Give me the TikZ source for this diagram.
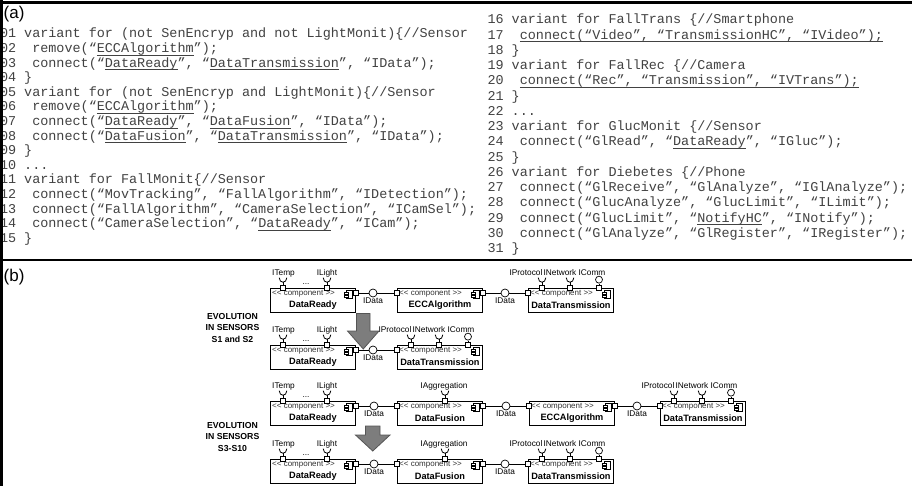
\documentclass[tikz,border=0pt]{standalone}
\usepackage{fontspec}
\setmainfont{Liberation Sans}
\newfontfamily\codefont{Liberation Mono}
\usetikzlibrary{calc}

% underline drawn as a rule under the word
\newcommand\uln[1]{\setbox0\hbox{#1}\rlap{\vrule width\wd0 height -2.2pt depth 3.1pt}\box0}

\tikzset{
  codeline/.style={anchor=base west, inner sep=0pt, outer sep=0pt, text=black!74,
    font=\codefont\fontsize{13.45}{14}\selectfont},
  frameline/.style={line width=2.6pt, black},
  partlabel/.style={anchor=west, inner sep=0pt, font=\fontsize{17}{17}\selectfont},
  compbox/.style={draw, anchor=north west, minimum width=85pt, minimum height=24pt,
    inner sep=0pt, line width=0.9pt, fill=white},
  stereo/.style={anchor=west, inner sep=0pt, text=black!80, font=\fontsize{8}{8}\selectfont},
  cname/.style={inner sep=0pt, font=\bfseries\fontsize{9.2}{10}\selectfont},
  icon/.style={draw, line width=0.6pt, fill=white},
  port/.style={draw, fill=white, rectangle, minimum size=4.5pt, inner sep=0pt, line width=0.6pt},
  ball/.style={draw, fill=white, circle, minimum size=8pt, inner sep=0pt, line width=0.7pt},
  wire/.style={line width=0.8pt},
  ilabel/.style={anchor=base, inner sep=0pt, font=\fontsize{8.3}{9}\selectfont},
  evo/.style={align=center, inner sep=0pt, font=\bfseries\fontsize{8.7}{11.6}\selectfont},
  bigarrow/.style={fill={rgb,255:red,125;green,125;blue,125},
    draw={rgb,255:red,85;green,85;blue,85}, line width=0.8pt, line join=miter},
}

% component box: name, left, top, title
\newcommand\compo[4]{%
  \node[compbox] (#1) at (#2,#3) {};
  \node[stereo] (#1-st) at ($(#1.north west)+(2,6)$) {<\kern0pt< component >\kern0pt>};
  \node[cname] (#1-nm) at ($(#1.north)+(0,17)$) {#4};
  \draw[icon] ($(#1.north east)+(-10,2.5)$) rectangle ($(#1.north east)+(-3.5,10)$);
  \draw[icon] ($(#1.north east)+(-12,4)$) rectangle ($(#1.north east)+(-8,5.8)$);
  \draw[icon] ($(#1.north east)+(-12,7)$) rectangle ($(#1.north east)+(-8,8.8)$);
}
\newcommand\portL[1]{\node[port] (#1-pl) at ($(#1.north west)+(0,5)$) {};}
\newcommand\portR[1]{\node[port] (#1-pr) at ($(#1.north east)+(0,5)$) {};}
% required interface on the top edge: port name, box, offset
\newcommand\socket[3]{%
  \node[port] (#1) at ($(#2.north west)+(#3,0)$) {};
  \draw[wire] (#1.north) -- ++(0,-3.2) coordinate (#1-c);
  \draw[wire] ($(#1-c)+(-3.8,-4.6)$) .. controls ($(#1-c)+(-3.8,1.5)$) and ($(#1-c)+(3.8,1.5)$) .. ($(#1-c)+(3.8,-4.6)$);
}
% provided interface on the top edge: port name, box, offset
\newcommand\lolli[3]{%
  \node[port] (#1) at ($(#2.north west)+(#3,0)$) {};
  \node[ball, minimum size=7pt] (#1-b) at ($(#1.north)+(0,-5.8)$) {};
  \draw[wire] (#1) -- (#1-b);
}
\newcommand\toplabel[4]{\node[ilabel] (#1) at ($(#2.north west)+(#3,-12.5)$) {#4};}
% DataReady with its two sensor inputs
\newcommand\sensorbox[3]{%
  \compo{#1}{#2}{#3}{DataReady}
  \portR{#1}
  \socket{#1-t}{#1}{13}\toplabel{#1-tl}{#1}{13.5}{ITemp}
  \socket{#1-l}{#1}{57}\toplabel{#1-ll}{#1}{57}{ILight}
  \node[ilabel] (#1-dots) at ($(#1.north west)+(36,-4)$) {...};
}
% DataTransmission with its three interfaces
\newcommand\transbox[3]{%
  \compo{#1}{#2}{#3}{DataTransmission}
  \portL{#1}
  \socket{#1-p}{#1}{14}\toplabel{#1-pl2}{#1}{-2}{IProtocol}
  \socket{#1-n}{#1}{42}\toplabel{#1-nl}{#1}{32}{INetwork}
  \lolli{#1-m}{#1}{71}\toplabel{#1-ml}{#1}{64}{IComm}
}
\newcommand\fusionbox[3]{%
  \compo{#1}{#2}{#3}{DataFusion}
  \portL{#1}\portR{#1}
  \socket{#1-a}{#1}{48}\toplabel{#1-al}{#1}{47}{IAggregation}
}
\newcommand\eccbox[3]{%
  \compo{#1}{#2}{#3}{ECCAlgorithm}
  \portL{#1}\portR{#1}
}
% ball between two boxes: name, x, y
\newcommand\databall[3]{%
  \node[ball] (#1) at (#2,#3) {};
  \node[ilabel] (#1-lb) at ($(#1)+(0,10.5)$) {IData};
}

\begin{document}
\begin{tikzpicture}[x=1pt,y=-1pt]
\useasboundingbox (0,0) rectangle (912,486);
\fill[white] (0,0) rectangle (912,486);

% ---------- (a) variability code ----------
\node[codeline] (c01) at (0,38.0)  {01 variant for (not SenEncryp and not LightMonit)\{//Sensor};
\node[codeline] (c02) at (0,52.6)  {02~~remove(“\uln{ECCAlgorithm}”);};
\node[codeline] (c03) at (0,67.2)  {03~~connect(“\uln{DataReady}”, “\uln{DataTransmission}”, “IData”);};
\node[codeline] (c04) at (0,81.8)  {04 \}};
\node[codeline] (c05) at (0,96.4)  {05 variant for (not SenEncryp and LightMonit)\{//Sensor};
\node[codeline] (c06) at (0,111.0) {06~~remove(“\uln{ECCAlgorithm}”);};
\node[codeline] (c07) at (0,125.6) {07~~connect(“\uln{DataReady}”, “\uln{DataFusion}”, “IData”);};
\node[codeline] (c08) at (0,140.2) {08~~connect(“\uln{DataFusion}”, “\uln{DataTransmission}”, “IData”);};
\node[codeline] (c09) at (0,154.8) {09 \}};
\node[codeline] (c10) at (0,169.4) {10 ...};
\node[codeline] (c11) at (0,184.0) {11 variant for FallMonit\{//Sensor};
\node[codeline] (c12) at (0,198.6) {12~~connect(“MovTracking”, “FallAlgorithm”, “IDetection”);};
\node[codeline] (c13) at (0,213.2) {13~~connect(“FallAlgorithm”, “CameraSelection”, “ICamSel”);};
\node[codeline] (c14) at (0,227.8) {14~~connect(“CameraSelection”, “\uln{DataReady}”, “ICam”);};
\node[codeline] (c15) at (0,242.4) {15 \}};

\node[codeline] (c16) at (487.5,24.0)   {16 variant for FallTrans \{//Smartphone};
\node[codeline] (c17) at (487.5,39.25)  {17~~\uln{connect(“Video”, “TransmissionHC”, “IVideo”);}};
\node[codeline] (c18) at (487.5,54.5)   {18 \}};
\node[codeline] (c19) at (487.5,69.75)  {19 variant for FallRec \{//Camera};
\node[codeline] (c20) at (487.5,85.0)   {20~~\uln{connect(“Rec”, “Transmission”, “IVTrans”);}};
\node[codeline] (c21) at (487.5,100.25) {21 \}};
\node[codeline] (c22) at (487.5,115.5)  {22 ...};
\node[codeline] (c23) at (487.5,130.75) {23 variant for GlucMonit \{//Sensor};
\node[codeline] (c24) at (487.5,146.0)  {24~~connect(“GlRead”, “\uln{DataReady}”, “IGluc”);};
\node[codeline] (c25) at (487.5,161.25) {25 \}};
\node[codeline] (c26) at (487.5,176.5)  {26 variant for Diebetes \{//Phone};
\node[codeline] (c27) at (487.5,191.75) {27~~connect(“GlReceive”, “GlAnalyze”, “IGlAnalyze”);};
\node[codeline] (c28) at (487.5,207.0)  {28~~connect(“GlucAnalyze”, “GlucLimit”, “ILimit”);};
\node[codeline] (c29) at (487.5,222.25) {29~~connect(“GlucLimit”, “\uln{NotifyHC}”, “INotify”);};
\node[codeline] (c30) at (487.5,237.5)  {30~~connect(“GlAnalyze”, “GlRegister”, “IRegister”);};
\node[codeline] (c31) at (487.5,252.75) {31 \}};

% ---------- frame ----------
\draw[frameline] (0,2.3) -- (912,2.3);
\draw[frameline] (0,260) -- (912,260);
\draw[frameline] (1.8,0) -- (1.8,486);
\node[partlabel] (pa) at (3.5,14) {(a)};
\node[partlabel] (pb) at (3.5,277) {(b)};

% ---------- (b) sensors S1 and S2 ----------
\sensorbox{ra}{270}{288}
\eccbox{rb}{397}{288}
\transbox{rc}{528}{288}
\databall{ra-b}{373}{293}
\databall{rb-b}{505}{293}
\draw[wire] (ra-pr) -- (ra-b) -- (rb-pl);
\draw[wire] (rb-pr) -- (rb-b) -- (rc-pl);

\sensorbox{sa}{270}{345}
\transbox{sb}{397}{345}
\databall{sa-b}{373}{350}
\draw[wire] (sa-pr) -- (sa-b) -- (sb-pl);

\draw[bigarrow] (356.5,313.5) -- (370,313.5) -- (370,331) -- (379,331) -- (363.25,349)
  -- (347.5,331) -- (356.5,331) -- cycle;
\node[evo] (evo1) at (232.5,328) {EVOLUTION\\IN SENSORS\\S1 and S2};

% ---------- (b) sensors S3-S10 ----------
\sensorbox{ta}{270}{401}
\fusionbox{tb}{397}{401}
\eccbox{tc}{529}{401}
\transbox{td}{660}{401}
\databall{ta-b}{374}{406}
\databall{tb-b}{506}{406}
\databall{tc-b}{637}{406}
\draw[wire] (ta-pr) -- (ta-b) -- (tb-pl);
\draw[wire] (tb-pr) -- (tb-b) -- (tc-pl);
\draw[wire] (tc-pr) -- (tc-b) -- (td-pl);

\sensorbox{ua}{270}{459}
\fusionbox{ub}{397}{459}
\transbox{uc}{528}{459}
\databall{ua-b}{374}{464}
\databall{ub-b}{505}{464}
\draw[wire] (ua-pr) -- (ua-b) -- (ub-pl);
\draw[wire] (ub-pr) -- (ub-b) -- (uc-pl);

\draw[bigarrow] (365.5,426) -- (380,426) -- (380,435) -- (390,435) -- (372.75,451)
  -- (355.5,435) -- (365.5,435) -- cycle;
\node[evo] (evo2) at (232.5,437) {EVOLUTION\\IN SENSORS\\S3-S10};
\end{tikzpicture}
\end{document}
